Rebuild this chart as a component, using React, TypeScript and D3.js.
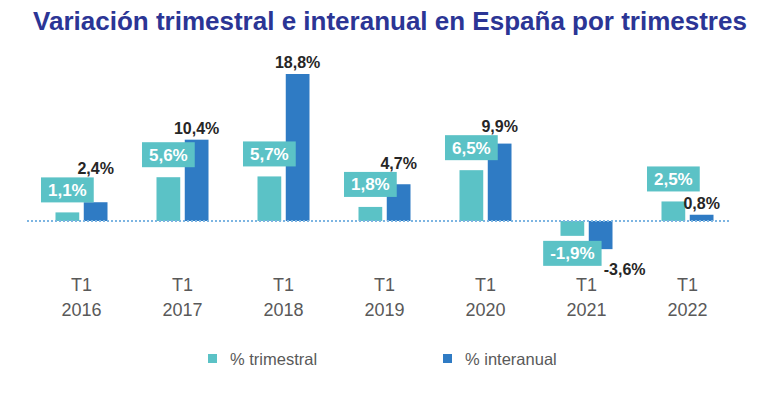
import * as d3 from "d3";
import { useRef, useEffect } from "react";

const years = ["2016", "2017", "2018", "2019", "2020", "2021", "2022"];
const quarterLabel = "T1";
const trimestral = [1.1, 5.6, 5.7, 1.8, 6.5, -1.9, 2.5];
const interanual = [2.4, 10.4, 18.8, 4.7, 9.9, -3.6, 0.8];
const seriesNames = ["% trimestral", "% interanual"];
const title = "Variación trimestral e interanual en España por trimestres";

const fmt = (v: number) => v.toFixed(1).replace(".", ",") + "%";

const Chart = ({ width = 768, height = 398 }: { width?: number; height?: number }) => {
  const svgRef = useRef<SVGSVGElement | null>(null);

  useEffect(() => {
    if (!svgRef.current) return;
    const svg = d3.select(svgRef.current);
    svg.selectAll("*").remove();

    const teal = "#5bc2c6";
    const blue = "#2f7bc4";
    const font = "'Liberation Sans', Arial, sans-serif";

    svg.append("rect").attr("width", width).attr("height", height).attr("fill", "#fff");

    // title
    svg
      .append("text")
      .attr("x", 390)
      .attr("y", 30)
      .attr("text-anchor", "middle")
      .attr("font-family", font)
      .attr("font-weight", "bold")
      .attr("font-size", 26)
      .attr("fill", "#2b3595")
      .text(title);

    // scales
    const x = d3.scaleBand().domain(years).range([31, 738]);
    const sub = d3.scaleBand().domain(["t", "i"]).range([-26, 26]).paddingInner(0.16);
    const y = d3.scaleLinear().domain([0, 18.8]).range([221, 74]);

    const cx = (yr: string) => x(yr)! + x.bandwidth() / 2;

    // bars
    const drawBars = (vals: number[], key: string, color: string) => {
      svg
        .append("g")
        .selectAll("rect")
        .data(vals)
        .join("rect")
        .attr("x", (_, i) => cx(years[i]) + sub(key)!)
        .attr("width", sub.bandwidth())
        .attr("y", (d) => y(Math.max(0, d)))
        .attr("height", (d) => Math.abs(y(d) - y(0)))
        .attr("fill", color);
    };
    drawBars(trimestral, "t", teal);
    drawBars(interanual, "i", blue);

    // baseline
    svg
      .append("line")
      .attr("x1", 27)
      .attr("x2", 730)
      .attr("y1", y(0))
      .attr("y2", y(0))
      .attr("stroke", "#7db5e2")
      .attr("stroke-width", 2)
      .attr("stroke-dasharray", "2,2");

    // trimestral label boxes
    const boxTops: number[] = [];
    const tLab = svg.append("g");
    trimestral.forEach((v, i) => {
      const bx = cx(years[i]) + sub("t")! + sub.bandwidth() / 2;
      const g = tLab.append("g");
      const t = g
        .append("text")
        .attr("x", bx)
        .attr("text-anchor", "middle")
        .attr("font-family", font)
        .attr("font-weight", "bold")
        .attr("font-size", 17)
        .attr("fill", "#fff")
        .text(fmt(v));
      const w = (t.node() as SVGTextElement).getComputedTextLength() + 14;
      const h = 25;
      const top = v >= 0 ? y(v) - 10 - h : y(v) + 5;
      boxTops.push(v >= 0 ? top : Infinity);
      g.insert("rect", "text")
        .attr("x", bx - w / 2)
        .attr("y", top)
        .attr("width", w)
        .attr("height", h)
        .attr("fill", teal);
      t.attr("y", top + h / 2 + 6);
    });

    // interanual labels (lifted above the box when they would collide)
    svg
      .append("g")
      .selectAll("text")
      .data(interanual)
      .join("text")
      .attr("x", (d, i) => cx(years[i]) + sub("i")! + sub.bandwidth() / 2 + (d < 0 ? 24 : 0))
      .attr("y", (d, i) => {
        if (d < 0) return y(d) + 26;
        const base = y(d) - 6;
        const bt = boxTops[i];
        if (base > bt && base - 13 < bt + 25) return bt - 3;
        return base;
      })
      .attr("text-anchor", "middle")
      .attr("font-family", font)
      .attr("font-weight", "bold")
      .attr("font-size", 16)
      .attr("fill", "#262626")
      .text((d) => fmt(d));

    // x axis labels
    const xl = svg.append("g");
    years.forEach((yr) => {
      const t = xl
        .append("text")
        .attr("x", cx(yr))
        .attr("text-anchor", "middle")
        .attr("font-family", font)
        .attr("font-size", 18)
        .attr("fill", "#595959");
      t.append("tspan").attr("x", cx(yr)).attr("y", 291).text(quarterLabel);
      t.append("tspan").attr("x", cx(yr)).attr("y", 316).text(yr);
    });

    // legend
    const legend = svg.append("g");
    [teal, blue].forEach((c, i) => {
      const lx = i === 0 ? 208 : 443;
      legend.append("rect").attr("x", lx).attr("y", 354).attr("width", 9).attr("height", 9).attr("fill", c);
      legend
        .append("text")
        .attr("x", lx + 22)
        .attr("y", 365)
        .attr("font-family", font)
        .attr("font-size", 16.5)
        .attr("fill", "#595959")
        .text(seriesNames[i]);
    });
  }, [width, height]);

  return (
    <svg
      ref={svgRef}
      width={width}
      height={height}
      style={{ position: "absolute", left: 0, top: 0 }}
    ></svg>
  );
};

export default function App() {
  return <Chart />;
}
